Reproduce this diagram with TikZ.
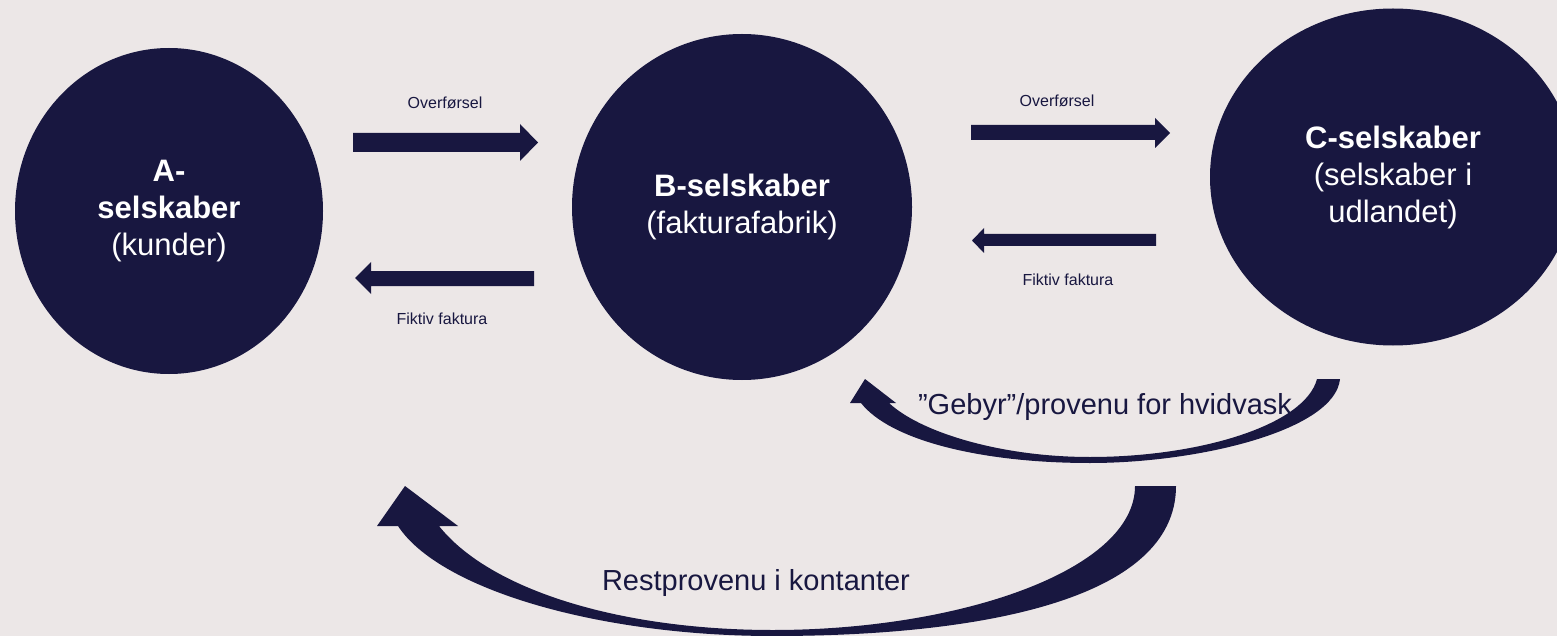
\documentclass[tikz,border=0pt]{standalone}
\usepackage{fontspec}
\setmainfont{Liberation Sans}
\usetikzlibrary{shapes.geometric}
\definecolor{navy}{RGB}{24,23,64}
\definecolor{bgc}{RGB}{236,231,231}
\begin{document}
\begin{tikzpicture}[x=1pt,y=-1pt,
  company/.style={ellipse, fill=navy, text=white, inner sep=0pt, align=center,
    font=\fontsize{31}{37}\selectfont},
  small/.style={text=navy, font=\fontsize{16}{19}\selectfont, inner sep=0pt},
  big/.style={text=navy, font=\fontsize{29}{34}\selectfont, inner sep=0pt},
  blockarrow/.style={fill=navy}]
\fill[bgc] (0,0) rectangle (1557,636);
\useasboundingbox (0,0) rectangle (1557,636);

% companies
\node[company, minimum width=308pt, minimum height=326pt] (A) at (169,211)
  {\textbf{A-}\\\textbf{selskaber}\\(kunder)};
\node[company, minimum width=340pt, minimum height=346pt] (B) at (742,207)
  {\textbf{B-selskaber}\\(fakturafabrik)};
\node[company, minimum width=366pt, minimum height=337pt] (C) at (1393,177)
  {\textbf{C-selskaber}\\(selskaber i\\udlandet)};

% straight block arrows
\fill[blockarrow] (353,133) -- (520,133) -- (520,124) -- (538,142.5) -- (520,161) -- (520,152) -- (353,152) -- cycle;
\fill[blockarrow] (534,271) -- (371,271) -- (371,262) -- (355,278) -- (371,294) -- (371,286) -- (534,286) -- cycle;
\fill[blockarrow] (971,125) -- (1155,125) -- (1155,118) -- (1170,133) -- (1155,148) -- (1155,140) -- (971,140) -- cycle;
\fill[blockarrow] (1156,234) -- (984,234) -- (984,228) -- (972,240.5) -- (984,253) -- (984,246) -- (1156,246) -- cycle;

\node[small] (o1) at (445,103) {Overførsel};
\node[small] (f1) at (442,319) {Fiktiv faktura};
\node[small] (o2) at (1057,101) {Overførsel};
\node[small] (f2) at (1068,280) {Fiktiv faktura};

% curved arrow: fee back to B
\fill[navy] (1340,379) .. controls (1335,430) and (1200,463) .. (1090,463)
  .. controls (980,463) and (890,440) .. (861,403)
  -- (850,403) -- (865,379) -- (896,403) -- (889,403)
  .. controls (920,432) and (1000,457) .. (1090,457)
  .. controls (1200,457) and (1305,425) .. (1317,379) -- cycle;
\node[big] (gebyr) at (1105,407) {”Gebyr”/provenu for hvidvask};

% curved arrow: cash back to A
\fill[navy] (1176,486) .. controls (1176,600) and (980,636) .. (773,636)
  .. controls (600,636) and (440,590) .. (398,526)
  -- (377,526) -- (405,486) -- (458,526) -- (439,526)
  .. controls (490,590) and (620,630) .. (773,630)
  .. controls (960,630) and (1135,570) .. (1135,486) -- cycle;
\node[big] (rest) at (756,583) {Restprovenu i kontanter};
\end{tikzpicture}
\end{document}
